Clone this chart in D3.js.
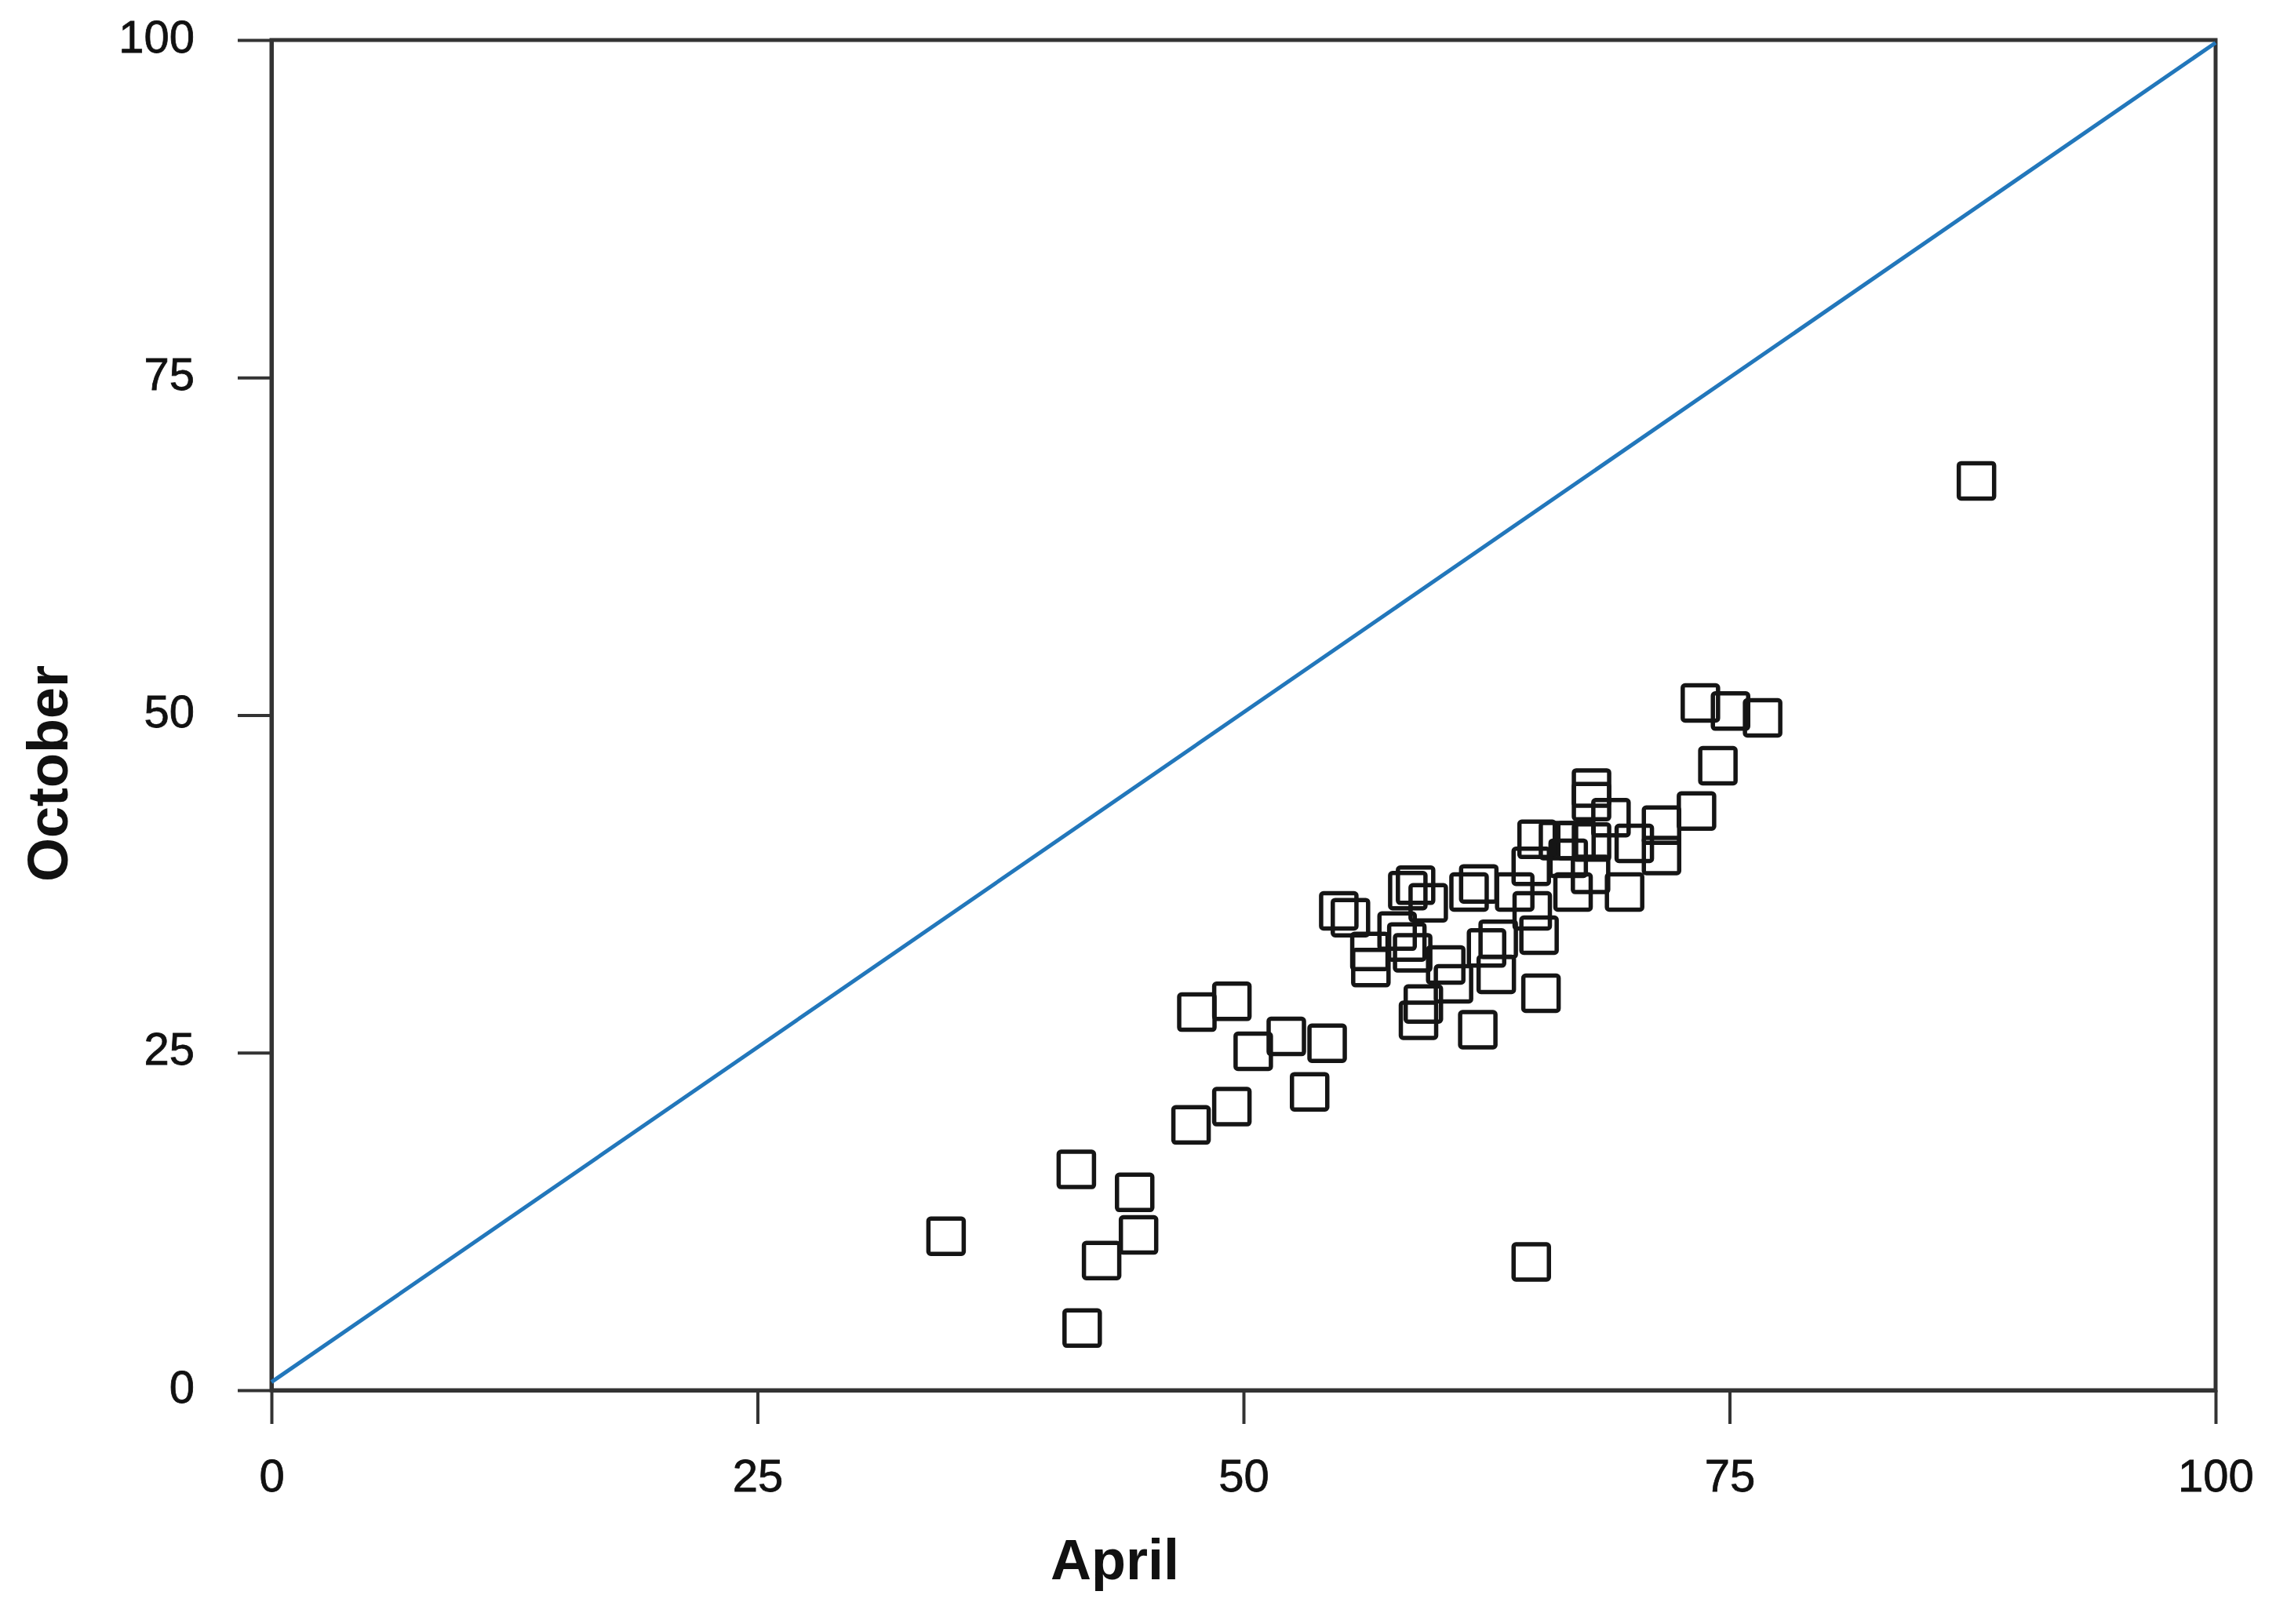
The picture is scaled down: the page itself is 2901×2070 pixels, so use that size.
<!DOCTYPE html>
<html>
<head>
<meta charset="utf-8">
<script src="https://cdn.jsdelivr.net/npm/d3@7"></script>
<style>
  html, body { margin: 0; padding: 0; background: #fff; }
  svg { display: block; }
</style>
</head>
<body>
<div id="chart"></div>
<script>
// ---- Data ----
const xTicks = [0, 25, 50, 75, 100];
const yTicks = [0, 25, 50, 75, 100];
const xTitle = "April";
const yTitle = "October";

// reference (1:1) line end points
const refLine = [[0, 0.6], [100, 99.8]];

// April values
const april = [
  87.7, 34.7, 41.4, 41.7, 42.7, 44.4, 44.6, 64.8,
  47.6, 49.4, 50.5, 52.2, 54.3, 53.4, 49.4, 47.3,
  65.3, 62.05, 73.5, 75.05, 76.7, 74.4, 73.3, 67.9,
  67.9, 68.9, 71.5, 70.1, 71.5, 69.6, 66.95, 67.85,
  65.1, 66.2, 67.1, 67.9, 64.8, 65.2, 54.9, 55.5,
  56.55, 56.5, 57.9, 58.45, 58.85, 59.5, 58.4, 58.7,
  60.4, 60.8, 59.0, 59.25, 61.6, 62.1, 62.5, 63.0,
  63.95, 64.85, 66.7, 63.1
];
// October values
const october = [
  67.35, 11.4, 16.35, 4.6, 9.6, 14.65, 11.5, 9.5,
  28.0, 28.8, 25.1, 26.2, 25.7, 22.1, 21.0, 19.65,
  29.4, 26.7, 50.9, 50.3, 49.8, 46.25, 42.9, 44.6,
  43.6, 42.4, 41.85, 40.5, 39.6, 36.9, 36.9, 38.2,
  40.8, 40.7, 40.7, 40.6, 38.8, 33.7, 35.5, 35.0,
  31.3, 32.5, 34.0, 37.0, 37.4, 36.1, 33.2, 32.4,
  31.5, 30.1, 27.4, 28.6, 36.9, 37.5, 32.75, 30.8,
  36.9, 35.5, 39.4, 33.4
];

// ---- Layout ----
const W = 2901, H = 2070;
const pLeft = 346, pRight = 2824, pTop = 51, pBottom = 1772;

const svg = d3.select("#chart").append("svg")
  .attr("width", W).attr("height", H)
  .attr("viewBox", `0 0 ${W} ${H}`);

const x = d3.scaleLinear().domain([0, 100]).range([pLeft, pRight]);
const y = d3.scaleLinear().domain([0, 100]).range([pBottom, pTop]);

const axisColor = "#333";
const axisWidth = 5;
const font = "'Liberation Sans', Arial, Helvetica, sans-serif";

// frame
svg.append("rect")
  .attr("x", pLeft).attr("y", pTop)
  .attr("width", pRight - pLeft).attr("height", pBottom - pTop)
  .attr("fill", "none").attr("stroke", axisColor).attr("stroke-width", axisWidth);

// axes
const gx = svg.append("g")
  .attr("transform", `translate(0,${pBottom})`)
  .call(d3.axisBottom(x).tickValues(xTicks).tickSize(43).tickSizeOuter(0).tickPadding(45)
        .tickFormat(d3.format("d")));
const gy = svg.append("g")
  .attr("transform", `translate(${pLeft},0)`)
  .call(d3.axisLeft(y).tickValues(yTicks).tickSize(43).tickSizeOuter(0).tickPadding(55)
        .tickFormat(d3.format("d")));

[gx, gy].forEach(g => {
  g.select(".domain").attr("stroke", axisColor).attr("stroke-width", axisWidth);
  g.selectAll(".tick line").attr("stroke", axisColor).attr("stroke-width", 4);
  g.selectAll(".tick text")
    .attr("fill", "#111")
    .attr("stroke", "#111")
    .attr("stroke-width", 0.8)
    .style("font-family", font)
    .style("font-size", "58px");
});
gy.selectAll(".tick text").attr("dy", "0.26em");

// reference line
svg.append("path")
  .datum(refLine)
  .attr("d", d3.line().x(d => x(d[0])).y(d => y(d[1])))
  .attr("fill", "none")
  .attr("stroke", "#2277bb")
  .attr("stroke-width", 5);

// points (open squares)
const pts = april.map((a, i) => ({a, o: october[i]}));
const side = 45;
svg.append("g").selectAll("rect")
  .data(pts)
  .join("rect")
  .attr("x", d => x(d.a) - side / 2)
  .attr("y", d => y(d.o) - side / 2)
  .attr("width", side).attr("height", side)
  .attr("rx", 3).attr("ry", 3)
  .attr("fill", "none")
  .attr("stroke", "#151515")
  .attr("stroke-width", 5.5);

// axis titles
svg.append("text")
  .attr("x", 1421).attr("y", 2013)
  .attr("text-anchor", "middle")
  .style("font-family", font)
  .style("font-weight", "bold")
  .style("font-size", "72px")
  .attr("fill", "#111")
  .text(xTitle);

svg.append("text")
  .attr("transform", "translate(86,986) rotate(-90)")
  .attr("text-anchor", "middle")
  .style("font-family", font)
  .style("font-weight", "bold")
  .style("font-size", "72px")
  .attr("fill", "#111")
  .text(yTitle);
</script>
</body>
</html>
